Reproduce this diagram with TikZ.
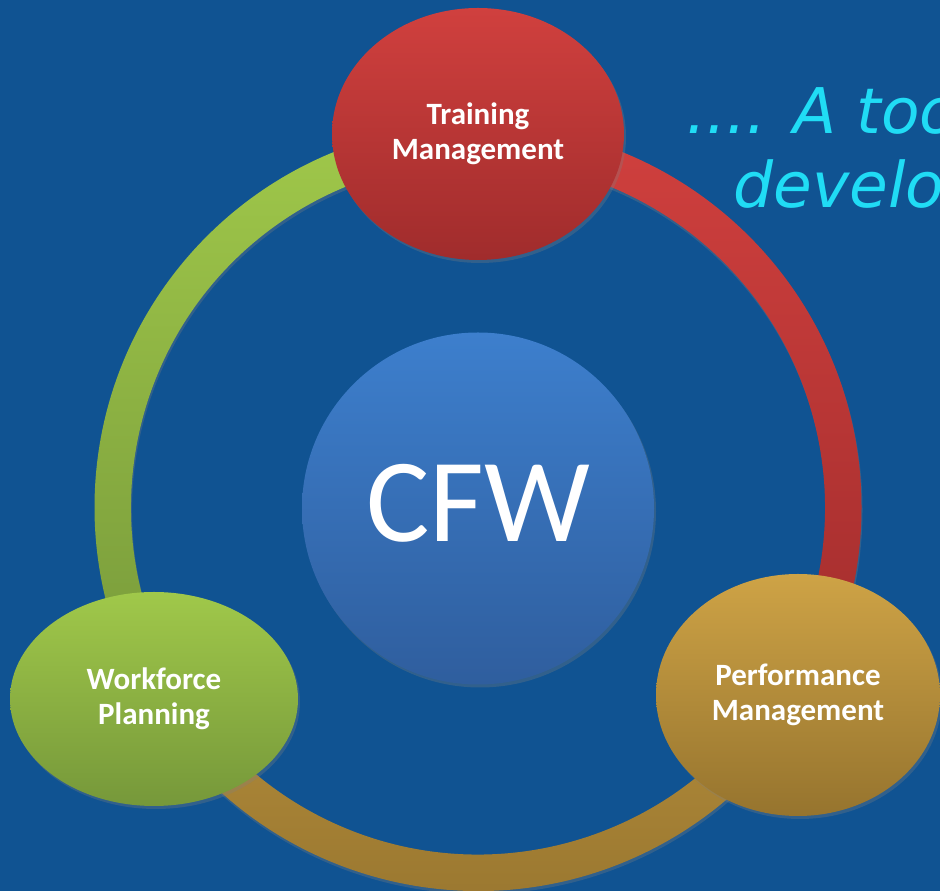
\documentclass[tikz,border=0pt]{standalone}
\usepackage{fontspec}
\setmainfont{Carlito}
\newfontfamily\tagfont{DejaVu Sans}[ItalicFont={DejaVu Sans Oblique}]
\usetikzlibrary{shapes.geometric}
\usetikzlibrary{shadows}
\definecolor{slide}{RGB}{16,83,146}
\definecolor{tagcyan}{RGB}{32,220,245}
\definecolor{hubtop}{RGB}{61,127,205}
\definecolor{hubbot}{RGB}{47,94,158}
\definecolor{redtop}{RGB}{208,64,62}
\definecolor{redbot}{RGB}{160,44,44}
\definecolor{greentop}{RGB}{160,200,74}
\definecolor{greenbot}{RGB}{118,152,58}
\definecolor{goldtop}{RGB}{206,163,70}
\definecolor{goldbot}{RGB}{150,116,46}
\tikzset{x=1pt, y=1pt,
every bubble/.style={ % Sets the properties for each outer bubble
ellipse,
inner sep=0pt,
align=center,
text=white,
font=\fontsize{31}{35}\selectfont\bfseries,
drop shadow={opacity=0.3, shadow xshift=2pt, shadow yshift=-3pt}},
hub/.style={ % The centre circle
circle,
inner sep=0pt,
minimum size=352pt,
top color=hubtop,
bottom color=hubbot,
drop shadow={opacity=0.3, shadow xshift=2pt, shadow yshift=-3pt}},
ring/.style={ % Sets the properties for each ring piece
drop shadow={opacity=0.3, shadow xshift=1pt, shadow yshift=-3pt}}}

\begin{document}
\begin{tikzpicture}
	\useasboundingbox (0,0) rectangle (940,891);
	\fill[slide] (0,0) rectangle (940,891);
	\clip (0,0) rectangle (940,891);
	\coordinate (mid) at (478,383.5);
	% ring pieces, outer radius 383.5, inner radius 347
	\shade[ring, top color=greentop, bottom color=greenbot] (mid) ++(90:383.5) arc[start angle=90, end angle=212, radius=383.5] -- ++(212:-36.5) arc[start angle=212, end angle=90, radius=347] -- cycle;
	\shade[ring, top color=redtop, bottom color=redbot] (mid) ++(88:383.5) arc[start angle=88, end angle=-32, radius=383.5] -- ++(-32:-36.5) arc[start angle=-32, end angle=88, radius=347] -- cycle;
	\shade[ring, top color=goldtop!95!black, bottom color=goldbot] (mid) ++(208:383.5) arc[start angle=208, end angle=332, radius=383.5] -- ++(332:-36.5) arc[start angle=332, end angle=208, radius=347] -- cycle;
	\node[hub] (cfw) at (478,382.5) {};
	\node[anchor=base, text=white, font=\fontsize{119}{119}\selectfont] (cfwtext) at (478,349) {CFW};
	\node[every bubble, minimum width=292pt, minimum height=252pt, top color=redtop, bottom color=redbot] (tm) at (478,757) {Training\\Management};
	\node[every bubble, minimum width=288pt, minimum height=214pt, top color=greentop, bottom color=greenbot] (wp) at (154,192) {Workforce\\Planning};
	\node[every bubble, minimum width=284pt, minimum height=242pt, top color=goldtop, bottom color=goldbot] (pm) at (798,196) {Performance\\Management};
	\node[anchor=base west, text=tagcyan, font=\tagfont\itshape\fontsize{63}{73}\selectfont] (tag1) at (683,757) {.... A tool};
	\node[anchor=base west, text=tagcyan, font=\tagfont\itshape\fontsize{63}{73}\selectfont] (tag2) at (730,683) {develop};
\end{tikzpicture}
\end{document}
